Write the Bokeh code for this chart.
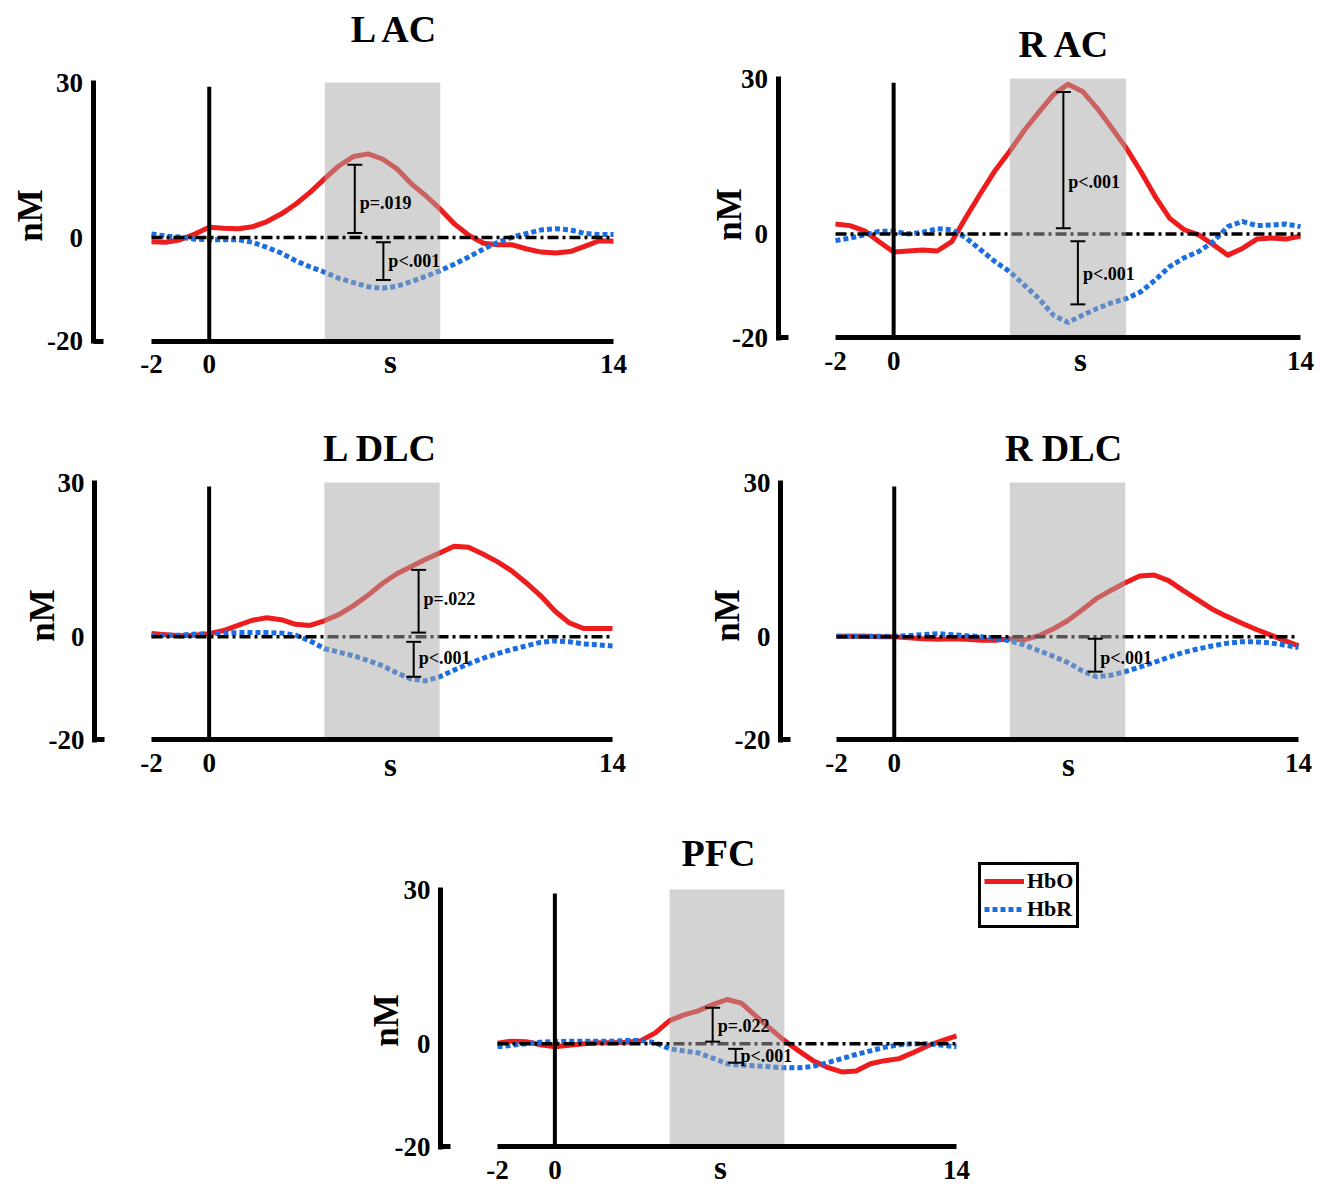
import math
from bokeh.plotting import figure
from bokeh.layouts import column, row
from bokeh.models import (Range1d, FixedTicker, Label, Whisker, TeeHead,
                          ColumnDataSource, Legend, LegendItem)
from bokeh.embed import file_html
from bokeh.resources import INLINE
from bokeh.core.properties import value

# ------------------------------------------------------------------ data
time_s = [-2.0, -1.5, -1.0, -0.5, 0.0, 0.5, 1.0, 1.5, 2.0, 2.5, 3.0, 3.5, 4.0,
          4.5, 5.0, 5.5, 6.0, 6.5, 7.0, 7.5, 8.0, 8.5, 9.0, 9.5, 10.0, 10.5,
          11.0, 11.5, 12.0, 12.5, 13.0, 13.5, 14.0]
x_ticks = [-2, 0, 14]
y_ticks = [-20, 0, 30]
y_limits = [-20, 30]
stim_window = [4, 8]
onset_line_top = 29.2

lac_hbo = [-0.8, -0.9, -0.4, 0.7, 2.0, 1.8, 1.7, 2.1, 3.1, 4.6, 6.5, 8.8, 11.4,
           13.9, 15.7, 16.2, 15.2, 13.3, 10.4, 8.1, 5.5, 2.6, 0.4, -1.1, -1.4,
           -1.4, -2.2, -2.8, -3.0, -2.7, -1.7, -0.6, -0.7]
lac_hbr = [0.7, 0.3, 0.1, -0.3, -0.4, -0.4, -0.4, -0.9, -1.9, -3.0, -4.5, -5.7,
           -6.7, -7.9, -8.7, -9.5, -9.8, -9.4, -8.5, -7.5, -6.4, -5.1, -3.7,
           -2.2, -0.9, 0.1, 0.8, 1.5, 1.7, 1.5, 0.8, 0.6, 0.6]

rac_hbo = [1.9, 1.6, 0.6, -1.5, -3.5, -3.3, -3.1, -3.3, -1.5, 3.3, 7.9, 12.3,
           16.0, 20.0, 23.5, 26.9, 28.9, 27.5, 24.3, 20.5, 16.6, 12.1, 7.2, 3.0,
           0.8, -0.2, -2.1, -4.1, -2.8, -1.0, -0.8, -1.0, -0.4]
rac_hbr = [-1.3, -0.8, -0.2, 0.5, 0.5, 0.0, 0.3, 1.0, 0.8, -0.8, -3.1, -5.4,
           -7.3, -9.9, -12.5, -15.7, -17.1, -15.7, -14.4, -13.3, -12.5, -11.2,
           -8.9, -6.3, -4.6, -3.4, -1.5, 1.4, 2.4, 1.6, 1.7, 1.9, 1.4]

ldlc_hbo = [0.6, 0.4, 0.2, 0.3, 0.6, 1.2, 2.2, 3.2, 3.7, 3.3, 2.4, 2.2, 3.1,
            4.3, 6.0, 8.0, 10.3, 12.2, 13.6, 15.0, 16.3, 17.6, 17.4, 16.1, 14.6,
            12.8, 10.5, 8.0, 5.0, 2.7, 1.6, 1.6, 1.6]
ldlc_hbr = [0.2, 0.3, 0.3, 0.5, 0.6, 0.7, 0.8, 0.8, 0.8, 0.7, 0.3, -0.8, -2.3,
            -3.0, -3.7, -4.6, -5.6, -7.0, -8.2, -8.6, -7.8, -6.5, -5.3, -4.2,
            -3.3, -2.5, -1.8, -1.1, -0.8, -1.0, -1.4, -1.6, -1.8]

rdlc_hbo = [0.1, 0.1, 0.1, 0.0, 0.0, -0.2, -0.4, -0.5, -0.4, -0.5, -0.7, -0.7,
            -0.4, -0.6, 0.2, 1.5, 3.1, 5.2, 7.4, 9.0, 10.5, 11.8, 12.0, 10.9,
            9.0, 7.2, 5.4, 4.0, 2.7, 1.5, 0.4, -0.7, -1.8]
rdlc_hbr = [0.1, 0.1, 0.1, 0.1, 0.1, 0.2, 0.4, 0.6, 0.4, 0.2, 0.0, -0.3, -0.8,
            -1.6, -2.7, -3.8, -5.0, -6.6, -7.8, -7.5, -6.8, -5.9, -5.0, -4.0,
            -3.1, -2.4, -1.8, -1.3, -1.0, -1.0, -1.2, -1.6, -2.1]

pfc_hbo = [0.1, 0.5, 0.4, -0.2, -0.6, -0.3, 0.0, 0.2, 0.2, 0.3, 0.6, 2.1, 4.5,
           5.6, 6.4, 7.6, 8.6, 7.9, 5.4, 3.0, 0.6, -1.4, -3.3, -4.6, -5.5, -5.3,
           -3.9, -3.3, -2.9, -1.7, -0.4, 0.6, 1.5]
pfc_hbr = [-0.6, -0.3, 0.0, 0.3, 0.4, 0.5, 0.5, 0.5, 0.5, 0.6, 0.6, 0.2, -1.0,
           -1.4, -1.8, -2.8, -3.9, -4.2, -4.3, -4.5, -4.7, -4.7, -4.4, -3.7,
           -2.9, -2.1, -1.4, -0.7, -0.2, 0.0, 0.0, -0.3, -0.6]

# significance bars: x position, lower, upper, text, text height
lac_bar_x = [5.04, 6.03]
lac_bar_lo = [0.9, -8.2]
lac_bar_hi = [14.1, -0.9]
lac_p_text = ["p=.019", "p<.001"]
lac_p_y = [6.7, -4.6]

rac_bar_x = [5.84, 6.34]
rac_bar_lo = [1.1, -13.6]
rac_bar_hi = [27.4, -1.4]
rac_p_text = ["p<.001", "p<.001"]
rac_p_y = [10.0, -7.7]

ldlc_bar_x = [7.27, 7.1]
ldlc_bar_lo = [0.8, -7.8]
ldlc_bar_hi = [13.0, -1.0]
ldlc_p_text = ["p=.022", "p<.001"]
ldlc_p_y = [7.4, -4.1]

rdlc_bar_x = [6.96]
rdlc_bar_lo = [-6.8]
rdlc_bar_hi = [-0.4]
rdlc_p_text = ["p<.001"]
rdlc_p_y = [-4.1]

pfc_bar_x = [5.5, 6.3]
pfc_bar_lo = [0.4, -3.7]
pfc_bar_hi = [7.0, -1.0]
pfc_p_text = ["p=.022", "p<.001"]
pfc_p_y = [3.5, -2.3]

# ------------------------------------------------------------------ style / layout
FONT = "Liberation Serif"
RED = "#ee1c1c"
BLUE = "#1b6ee0"

# picture-pixel geometry of each panel (layout only)
GEOM = {
    "L AC": dict(canvas=(0, 0, 668, 400), x_m2=151, x_14=613, y_30=82, y_m20=340.5, spine=92.5,
                 title=(395, 28), ylab=(30, 215), xlab=(390, 361), zero_on_top=True),
    "R AC": dict(canvas=(668, 0, 652, 400), x_m2=835, x_14=1300, y_30=78, y_m20=337, spine=777.5,
                 title=(1064, 43), ylab=(729, 214), xlab=(1080, 359), zero_on_top=False),
    "L DLC": dict(canvas=(0, 400, 668, 400), x_m2=151, x_14=612, y_30=482, y_m20=739, spine=94,
                  title=(380, 447), ylab=(42, 615), xlab=(390, 764), zero_on_top=False),
    "R DLC": dict(canvas=(668, 400, 652, 400), x_m2=836, x_14=1298, y_30=482, y_m20=739, spine=780,
                  title=(1063, 447), ylab=(727, 615), xlab=(1068, 764), zero_on_top=False),
    "PFC": dict(canvas=(0, 800, 1320, 387), x_m2=497, x_14=956, y_30=889, y_m20=1146, spine=440,
                title=(718, 852), ylab=(386, 1020), xlab=(720, 1167), zero_on_top=False),
}
LEGEND_BOX = (978, 928)  # picture px: left, bottom
TEXT_KW = dict(text_font=FONT, text_font_style="bold", text_color="black")


def build(name, hbo, hbr, bar_x, bar_lo, bar_hi, p_text, p_y, with_legend=False):
    g = GEOM[name]
    cx0, cy0, W, H = g["canvas"]
    sx = (g["x_14"] - g["x_m2"]) / (x_ticks[-1] - x_ticks[0])
    sy = (g["y_m20"] - g["y_30"]) / (y_limits[1] - y_limits[0])

    def X(px):
        return x_ticks[0] + (px - g["x_m2"]) / sx

    def Y(py):
        return y_limits[1] - (py - g["y_30"]) / sy

    p = figure(width=W, height=H,
               x_range=Range1d(X(cx0), X(cx0 + W)), y_range=Range1d(Y(cy0 + H), Y(cy0)),
               min_border_left=0, min_border_right=0, min_border_top=0, min_border_bottom=0,
               output_backend="svg", toolbar_location=None)
    p.outline_line_color = None
    p.grid.visible = False
    p.background_fill_color = "white"
    p.border_fill_color = "white"

    # y axis: thick spine with a foot at -20, offset left of the data
    yax = p.yaxis[0]
    yax.fixed_location = X(g["spine"])
    yax.ticker = FixedTicker(ticks=y_ticks, minor_ticks=[y_limits[0]])
    yax.bounds = (y_limits[0] - 2.5 / sy, y_limits[1] + 2.0 / sy)
    yax.axis_line_width = 5
    yax.axis_line_color = "black"
    yax.major_tick_line_color = None
    yax.major_tick_out = 0
    yax.major_tick_in = 0
    yax.minor_tick_line_color = "black"
    yax.minor_tick_line_width = 5
    yax.minor_tick_in = 10
    yax.minor_tick_out = 0
    yax.major_label_overrides = {t: str(t) for t in y_ticks}
    yax.major_label_text_font = FONT
    yax.major_label_text_font_style = "bold"
    yax.major_label_text_font_size = "27px"
    yax.major_label_text_color = "black"
    yax.major_label_standoff = 10

    # x axis: thick line from -2 to 14 at -20
    xax = p.xaxis[0]
    xax.fixed_location = y_limits[0]
    xax.ticker = FixedTicker(ticks=x_ticks, minor_ticks=[])
    xax.bounds = (x_ticks[0], x_ticks[-1])
    xax.axis_line_width = 5
    xax.axis_line_color = "black"
    xax.major_tick_line_color = None
    xax.minor_tick_line_color = None
    xax.major_tick_out = 0
    xax.major_tick_in = 0
    xax.major_label_overrides = {t: str(t) for t in x_ticks}
    xax.major_label_text_font = FONT
    xax.major_label_text_font_style = "bold"
    xax.major_label_text_font_size = "27px"
    xax.major_label_text_color = "black"
    xax.major_label_standoff = 14

    # curves
    r_hbo = p.line(time_s, hbo, line_color=RED, line_width=5, line_join="round")
    r_hbr = p.line(time_s, hbr, line_color=BLUE, line_width=5, line_dash="5 3")

    zero_kw = dict(line_color="black", line_width=3.5, line_dash="11 4 3 4")
    if not g["zero_on_top"]:
        p.line([x_ticks[0], x_ticks[-1]], [0, 0], **zero_kw)
    # stimulus window (translucent grey over the curves)
    p.quad(left=[stim_window[0]], right=[stim_window[1]], bottom=[y_limits[0]], top=[y_limits[1]],
           fill_color="#a8a8a8", fill_alpha=0.5, line_color=None)
    if g["zero_on_top"]:
        p.line([x_ticks[0], x_ticks[-1]], [0, 0], **zero_kw)
    # onset line
    p.segment(x0=[0], y0=[y_limits[0]], x1=[0], y1=[onset_line_top], line_color="black", line_width=4)

    # significance bars (drawn above the grey window)
    src = ColumnDataSource(dict(base=bar_x, lower=bar_lo, upper=bar_hi))
    p.add_layout(Whisker(source=src, base="base", lower="lower", upper="upper", level="annotation",
                         line_color="black", line_width=2, line_alpha=1,
                         upper_head=TeeHead(size=15, line_width=2, line_color="black", line_alpha=1),
                         lower_head=TeeHead(size=15, line_width=2, line_color="black", line_alpha=1)))
    p.text(x=bar_x, y=p_y, text=p_text, x_offset=5, text_align="left", text_baseline="middle",
           text_font=value(FONT), text_font_style="bold", text_font_size="18px", text_color="black")

    # title and axis names
    tx, ty = g["title"]
    p.add_layout(Label(x=X(tx), y=Y(ty), text=name, text_align="center", text_baseline="middle",
                       text_font_size="38px", **TEXT_KW))
    lx, ly = g["ylab"]
    p.add_layout(Label(x=X(lx), y=Y(ly), text="nM", angle=math.pi / 2, text_align="center",
                       text_baseline="middle", text_font_size="35px", **TEXT_KW))
    sxp, syp = g["xlab"]
    p.add_layout(Label(x=X(sxp), y=Y(syp), text="s", text_align="center", text_baseline="middle",
                       text_font_size="33px", **TEXT_KW))

    if with_legend:
        lgx, lgy = LEGEND_BOX
        leg = Legend(items=[LegendItem(label=value("HbO"), renderers=[r_hbo]),
                            LegendItem(label=value("HbR"), renderers=[r_hbr])],
                     location=(lgx - cx0, cy0 + H - lgy), margin=0, padding=3, spacing=2,
                     glyph_width=40, glyph_height=20, label_standoff=3, label_height=20,
                     label_text_font=FONT, label_text_font_style="bold", label_text_font_size="22px",
                     label_text_color="black",
                     border_line_color="black", border_line_width=3, border_line_alpha=1,
                     background_fill_alpha=1)
        p.add_layout(leg)
    return p


p1 = build("L AC", lac_hbo, lac_hbr, lac_bar_x, lac_bar_lo, lac_bar_hi, lac_p_text, lac_p_y)
p2 = build("R AC", rac_hbo, rac_hbr, rac_bar_x, rac_bar_lo, rac_bar_hi, rac_p_text, rac_p_y)
p3 = build("L DLC", ldlc_hbo, ldlc_hbr, ldlc_bar_x, ldlc_bar_lo, ldlc_bar_hi, ldlc_p_text, ldlc_p_y)
p4 = build("R DLC", rdlc_hbo, rdlc_hbr, rdlc_bar_x, rdlc_bar_lo, rdlc_bar_hi, rdlc_p_text, rdlc_p_y)
p5 = build("PFC", pfc_hbo, pfc_hbr, pfc_bar_x, pfc_bar_lo, pfc_bar_hi, pfc_p_text, pfc_p_y,
           with_legend=True)

layout = column(row(p1, p2), row(p3, p4), p5)
open("out.html", "w").write(file_html(layout, INLINE))
